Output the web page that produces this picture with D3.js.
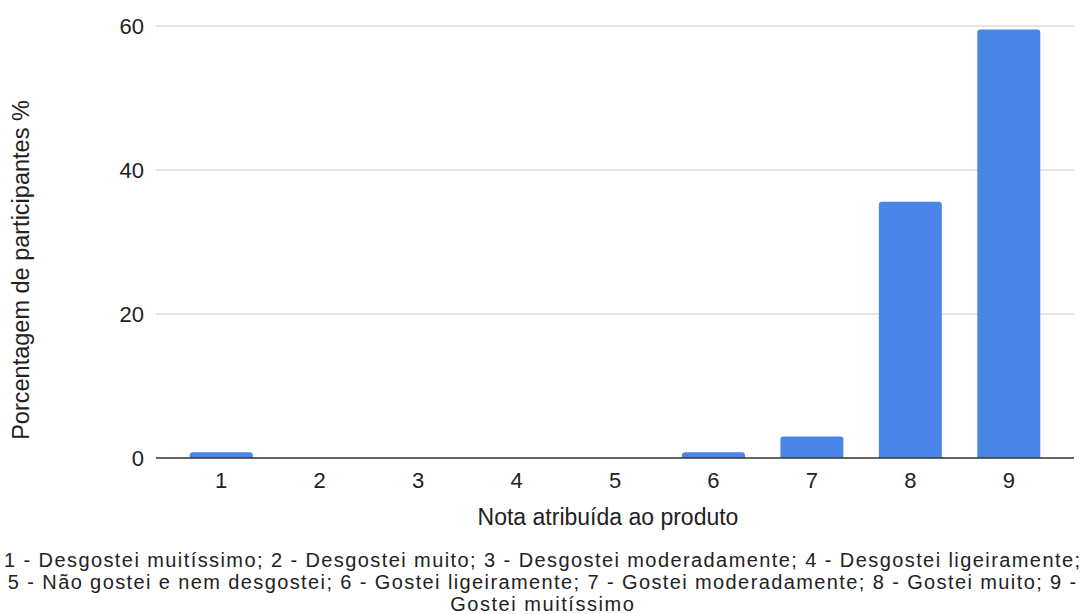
<!DOCTYPE html>
<html>
<head>
<meta charset="UTF-8">
<script src="https://d3js.org/d3.v7.min.js"></script>
<style>
  body { margin: 0; background: #fff; }
  text { font-family: "Liberation Sans", Arial, sans-serif; fill: #222; }
</style>
</head>
<body>
<script>
// dados
var categories = ["1", "2", "3", "4", "5", "6", "7", "8", "9"];
var values = [0.8, 0, 0, 0, 0, 0.8, 3.0, 35.6, 59.5];
var yTicks = [0, 20, 40, 60];
var xTitle = "Nota atribuída ao produto";
var yTitle = "Porcentagem de participantes %";
var footnote = [
  "1 - Desgostei muitíssimo; 2 - Desgostei muito; 3 - Desgostei moderadamente; 4 - Desgostei ligeiramente;",
  "5 - Não gostei e nem desgostei; 6 - Gostei ligeiramente; 7 - Gostei moderadamente; 8 - Gostei muito; 9 -",
  "Gostei muitíssimo"
];

var width = 1084, height = 614;
var plotLeft = 156, plotRight = 1074, plotTop = 26, plotBottom = 458;

var svg = d3.select("body").append("svg")
  .attr("width", width).attr("height", height);

var x = d3.scaleBand().domain(categories).range([172, 1058]).paddingInner(0.36).paddingOuter(0.18);
var y = d3.scaleLinear().domain([0, 60]).range([plotBottom, plotTop]);

// linhas de grade
svg.append("g").selectAll("line").data(yTicks.filter(d => d > 0)).join("line")
  .attr("x1", plotLeft).attr("x2", plotRight)
  .attr("y1", d => y(d)).attr("y2", d => y(d))
  .attr("stroke", "#cccccc").attr("stroke-width", 1);

// rótulos do eixo y
svg.append("g").selectAll("text").data(yTicks).join("text")
  .attr("x", 144).attr("y", d => y(d)).attr("dy", "0.35em")
  .attr("text-anchor", "end").style("font-size", "22px")
  .text(d => d);

// barras com cantos superiores arredondados
var r = 3;
svg.append("g").selectAll("path").data(values).join("path")
  .attr("fill", "#4a86e8")
  .attr("d", function (d, i) {
    if (d <= 0) return null;
    var x0 = x(categories[i]), w = x.bandwidth();
    var y0 = y(d), y1 = y(0);
    var rr = Math.min(r, (y1 - y0));
    return "M" + x0 + "," + y1 +
      "V" + (y0 + rr) + "Q" + x0 + "," + y0 + " " + (x0 + rr) + "," + y0 +
      "H" + (x0 + w - rr) + "Q" + (x0 + w) + "," + y0 + " " + (x0 + w) + "," + (y0 + rr) +
      "V" + y1 + "Z";
  });

// linha base
svg.append("line")
  .attr("x1", plotLeft).attr("x2", plotRight)
  .attr("y1", y(0)).attr("y2", y(0))
  .attr("stroke", "#333").attr("stroke-width", 1.5);

// rótulos do eixo x
svg.append("g").selectAll("text").data(categories).join("text")
  .attr("x", d => x(d) + x.bandwidth() / 2).attr("y", 488)
  .attr("text-anchor", "middle").style("font-size", "22px")
  .text(d => d);

// títulos
svg.append("text").attr("x", 608).attr("y", 525)
  .attr("text-anchor", "middle").style("font-size", "23px").text(xTitle);

svg.append("text")
  .attr("transform", "translate(29,270) rotate(-90)")
  .attr("text-anchor", "middle").style("font-size", "23.5px").text(yTitle);

// nota de rodapé (fonte menor, espaçada até a largura da linha do original)
var foot = svg.append("g").selectAll("text").data(footnote).join("text")
  .attr("x", 542).attr("y", (d, i) => 567 + i * 22)
  .attr("text-anchor", "middle").style("font-size", "20px")
  .text(d => d);
var k = 1076 / foot.nodes()[0].getComputedTextLength();
foot.each(function () {
  d3.select(this).attr("textLength", this.getComputedTextLength() * k)
    .attr("lengthAdjust", "spacing");
});
</script>
</body>
</html>
